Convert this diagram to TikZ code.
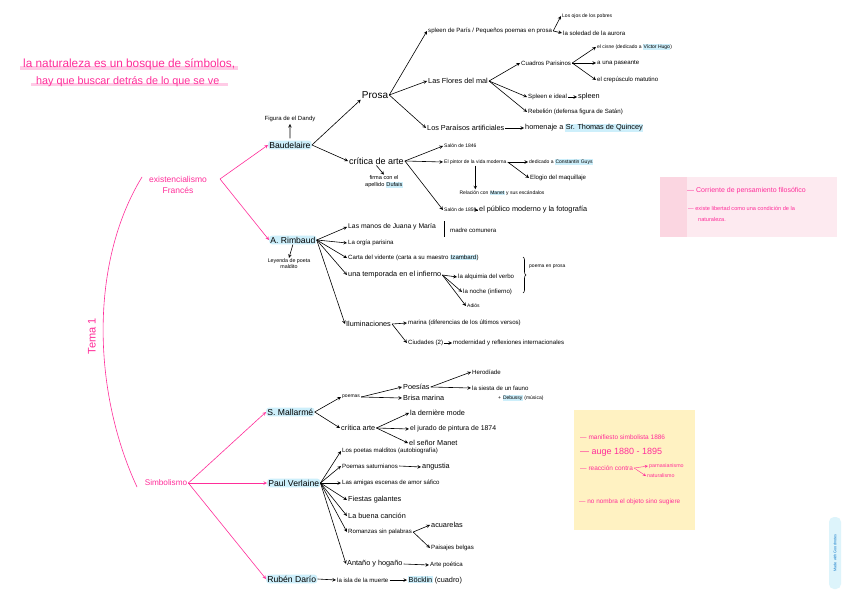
\documentclass[tikz,border=0pt]{standalone}
\usepackage{fontspec}
\setmainfont{Liberation Sans}
\usepackage{tikz}
\usetikzlibrary{decorations.pathreplacing}
\definecolor{rosa}{HTML}{FF2E9A}
\definecolor{celeste}{HTML}{CDEFFB}
\definecolor{rosapalo}{HTML}{FDEAF0}
\definecolor{rosafuerte}{HTML}{FBD6E1}
\definecolor{amarillo}{HTML}{FFF2C2}
\definecolor{marcaazul}{HTML}{DDF4FB}
\tikzstyle{edge} = [draw,->,>=stealth,line width=0.6pt]
\tikzstyle{pedge} = [edge,color=rosa]
\tikzstyle{autor} = [fill=celeste,rounded corners=3pt,inner sep=1.2pt,anchor=west,font=\fontsize{8.6}{9}\selectfont]
\tikzstyle{med} = [inner sep=1pt,anchor=west,font=\fontsize{7.3}{8}\selectfont]
\tikzstyle{peq} = [inner sep=1pt,anchor=west,font=\fontsize{6.1}{7}\selectfont]
\tikzstyle{mini} = [inner sep=1pt,anchor=west,font=\fontsize{5}{6}\selectfont]
\newcommand{\resalta}[1]{{\setlength{\fboxsep}{0.5pt}\colorbox{celeste}{#1}}}

\begin{document}
\begin{tikzpicture}[x=1pt,y=-1pt]
    \useasboundingbox[fill=white] (0,0) rectangle (848,599);

    % lema
    \draw[rosa!25, line width=4pt] (20,68) -- (238,68);
    \draw[rosa!25, line width=3pt] (31,85) -- (228,85);
    \node[inner sep=1,anchor=west,text=rosa,font=\fontsize{11.8}{12}\selectfont] (lema) at (22,64) {la naturaleza es un bosque de símbolos,};
    \node[inner sep=1,anchor=west,text=rosa,font=\fontsize{10.8}{11}\selectfont] (lema2) at (35,82) {hay que buscar detrás de lo que se ve};

    % tema
    \coordinate (arcTop) at (142,177);
    \coordinate (arcBot) at (137,487);
    \draw[rosa, line width=0.6pt] (arcTop) .. controls (90,262) and (92,390) .. (arcBot);
    \node[rotate=90,text=rosa,font=\fontsize{11}{12}\selectfont] (tema) at (92,336) {Tema 1};
    \node[inner sep=1,align=center,text=rosa,font=\fontsize{8.5}{11}\selectfont] (exist) at (178,185) {existencialismo\\Francés};
    \node[inner sep=1,text=rosa,font=\fontsize{8.2}{9}\selectfont] (simb) at (166,483) {Simbolismo};
    \coordinate (exR) at (220,179);

    % autores
    \node[autor] (baud) at (268,145) {Baudelaire};
    \node[autor] (rimb) at (269,240) {A. Rimbaud};
    \node[autor] (malla) at (266,412) {S. Mallarmé};
    \node[autor] (verl) at (267,483) {Paul Verlaine};
    \node[autor] (dario) at (266,579) {Rubén Darío};

    \draw[pedge] (exR) -- (baud.west);
    \draw[pedge] (exR) -- (rimb.west);
    \draw[pedge] (simb.east) -- (malla.west);
    \draw[pedge] (simb.east) -- (verl.west);
    \draw[pedge] (simb.east) -- (dario.west);

    % Baudelaire
    \node[inner sep=1,font=\fontsize{6}{7}\selectfont] (dandy) at (290,119) {Figura de el Dandy};
    \node[inner sep=1,font=\fontsize{10}{11}\selectfont] (prosa) at (375,95) {Prosa};
    \node[inner sep=1,anchor=west,font=\fontsize{9}{10}\selectfont] (critica) at (348,161) {crítica de arte};
    \node[inner sep=1,align=center,font=\fontsize{5.6}{7}\selectfont] (dufais) at (384,182) {firma con el\\apellido \resalta{Dufais}};
    \draw[edge, shorten <=2pt, shorten >=1pt] (baud.north) -- (dandy.south);
    \draw[edge] (baud.east) -- (prosa.south west);
    \draw[edge] (baud.east) -- (critica.west);
    \draw[edge] (critica.south) -- (dufais.north);

    \node[peq] (spleen) at (427,31) {spleen de París / Pequeños poemas en prosa};
    \node[med] (flores) at (427,81) {Las Flores del mal};
    \node[med] (paraisos) at (426,128) {Los Paraísos artificiales};
    \draw[edge] (prosa.east) -- (spleen.west);
    \draw[edge] (prosa.east) -- (flores.west);
    \draw[edge] (prosa.east) -- (paraisos.west);

    \node[mini] (ojos) at (561,16) {Los ojos de los pobres};
    \node[peq] (soledad) at (562,33) {la soledad de la aurora};
    \draw[edge] (spleen.east) -- (ojos.west);
    \draw[edge] (spleen.east) -- (soledad.west);

    \node[peq] (cuadros) at (520,63) {Cuadros Parisinos};
    \node[peq] (ideal) at (527,97) {Spleen e ideal};
    \node[med] (splw) at (577,97) {spleen};
    \node[peq] (rebel) at (527,112) {Rebelión (defensa figura de Satán)};
    \draw[edge] (flores.east) -- (cuadros.west);
    \draw[edge] (flores.east) -- (ideal.west);
    \draw[edge] (flores.east) -- (rebel.west);
    \draw[edge] (ideal.east) -- (splw.west);

    \node[mini] (cisne) at (596,47) {el cisne (dedicado a \resalta{Víctor Hugo})};
    \node[peq] (paseante) at (596,63) {a una paseante};
    \node[peq] (crepus) at (596,80) {el crepúsculo matutino};
    \draw[edge] (cuadros.east) -- (cisne.west);
    \draw[edge] (cuadros.east) -- (paseante.west);
    \draw[edge] (cuadros.east) -- (crepus.west);

    \node[med] (homenaje) at (524,128) {homenaje a \resalta{Sr. Thomas de Quincey}};
    \draw[edge] (paraisos.east) -- (homenaje.west);

    \node[mini] (salon46) at (443,146) {Salón de 1846};
    \node[mini] (pintor) at (443,162) {El pintor de la vida moderna};
    \node[mini] (salon59) at (443,210) {Salón de 1859};
    \draw[edge] (critica.east) -- (salon46.west);
    \draw[edge] (critica.east) -- (pintor.west);
    \draw[edge] (critica.east) -- (salon59.west);

    \node[mini] (guys) at (528,162) {dedicado a \resalta{Constantin Guys}};
    \node[peq] (elogio) at (529,178) {Elogio del maquillaje};
    \node[inner sep=1,font=\fontsize{5}{6}\selectfont] (manet) at (502,193) {Relación con \resalta{Manet} y sus escándalos};
    \node[med] (publico) at (478,210) {el público moderno y la fotografía};
    \draw[edge] (pintor.east) -- (guys.west);
    \draw[edge] (pintor.east) -- (elogio.west);
    \draw[edge] (pintor.south) -- (pintor.south |- manet.north);
    \draw[edge] (salon59.east) -- (publico.west);

    % Rimbaud
    \node[inner sep=1,align=center,font=\fontsize{5.3}{6}\selectfont] (leyenda) at (289,264) {Leyenda de poeta\\maldito};
    \draw[edge] (rimb.south) -- (leyenda.north);
    \node[inner sep=1pt,anchor=west,font=\fontsize{6.8}{8}\selectfont] (manos) at (347,227) {Las manos de Juana y María};
    \node[peq] (orgia) at (347,243) {La orgía parisina};
    \node[peq] (carta) at (347,258) {Carta del vidente (carta a su maestro \resalta{Izambard})};
    \node[med] (tempo) at (347,275) {una temporada en el infierno};
    \node[med] (ilum) at (345,324) {Iluminaciones};
    \draw[edge] (rimb.east) -- (manos.west);
    \draw[edge] (rimb.east) -- (orgia.west);
    \draw[edge] (rimb.east) -- (carta.west);
    \draw[edge] (rimb.east) -- (tempo.west);
    \draw[edge] (rimb.east) -- (ilum.west);

    \draw[line width=0.6pt] (444,221) -- (444,237);
    \node[peq] (madre) at (449,230) {madre comunera};

    \node[peq] (alquimia) at (457,277) {la alquimia del verbo};
    \node[peq] (noche) at (462,292) {la noche (infierno)};
    \node[mini] (adios) at (466,306) {Adiós};
    \draw[edge] (tempo.east) -- (alquimia.west);
    \draw[edge] (tempo.east) -- (noche.west);
    \draw[edge] (tempo.east) -- (adios.west);
    \draw[line width=0.6pt, decorate, decoration={brace,amplitude=3pt}] (523,257) -- (523,293);
    \node[mini] (poema) at (528,267) {poema en prosa};

    \node[peq] (marina) at (407,323) {marina (diferencias de los últimos versos)};
    \node[peq] (ciudades) at (407,343) {Ciudades (2)};
    \node[peq] (moderna) at (452,343) {modernidad y reflexiones internacionales};
    \draw[edge] (ilum.east) -- (marina.west);
    \draw[edge] (ilum.east) -- (ciudades.west);
    \draw[edge] (ciudades.east) -- (moderna.west);

    % Mallarme
    \node[mini] (poemas) at (341,397) {poemas};
    \node[med] (critarte) at (340,428) {crítica arte};
    \draw[edge] (malla.east) -- (poemas.west);
    \draw[edge] (malla.east) -- (critarte.west);
    \node[med] (poesias) at (402,387) {Poesías};
    \node[med] (brisa) at (402,398) {Brisa marina};
    \draw[edge] (poemas.east) -- (poesias.west);
    \draw[edge] (poemas.east) -- (brisa.west);
    \node[peq] (herod) at (471,372) {Herodíade};
    \node[peq] (siesta) at (471,388) {la siesta de un fauno};
    \node[mini] (debussy) at (497,398) {+ \resalta{Debussy} (música)};
    \draw[edge] (poesias.east) -- (herod.west);
    \draw[edge] (poesias.east) -- (siesta.west);
    \node[med] (derniere) at (409,413) {la dernière mode};
    \node[inner sep=1pt,anchor=west,font=\fontsize{6.9}{8}\selectfont] (jurado) at (409,429) {el jurado de pintura de 1874};
    \node[med] (senor) at (408,443) {el señor Manet};
    \draw[edge] (critarte.east) -- (derniere.west);
    \draw[edge] (critarte.east) -- (jurado.west);
    \draw[edge] (critarte.east) -- (senor.west);

    % Verlaine
    \node[peq] (malditos) at (341,451) {Los poetas malditos (autobiografía)};
    \node[peq] (saturn) at (341,466) {Poemas saturnianos};
    \node[peq] (amigas) at (341,483) {Las amigas escenas de amor sáfico};
    \node[med] (fiestas) at (347,500) {Fiestas galantes};
    \node[med] (buena) at (347,516) {La buena canción};
    \node[peq] (romanzas) at (347,532) {Romanzas sin palabras};
    \node[med] (antano) at (346,564) {Antaño y hogaño};
    \foreach \obra in {malditos,saturn,amigas,fiestas,buena,romanzas,antano}
        \draw[edge] (verl.east) -- (\obra.west);
    \node[med] (angustia) at (421,467) {angustia};
    \node[med] (acuarelas) at (430,525) {acuarelas};
    \node[peq] (paisajes) at (430,548) {Paisajes belgas};
    \node[peq] (artepo) at (429,565) {Arte poética};
    \draw[edge] (saturn.east) -- (angustia.west);
    \draw[edge] (romanzas.east) -- (acuarelas.west);
    \draw[edge] (romanzas.east) -- (paisajes.west);
    \draw[edge] (antano.east) -- (artepo.west);

    % Dario
    \node[peq] (isla) at (336,580) {la isla de la muerte};
    \node[med] (bocklin) at (407,580) {\resalta{Böcklin} (cuadro)};
    \draw[edge] (dario.east) -- (isla.west);
    \draw[edge] (isla.east) -- (bocklin.west);

    % notas
    \fill[rosapalo] (660,177) rectangle (837,237);
    \fill[rosafuerte] (660,177) rectangle (687,237);
    \node[inner sep=1,anchor=west,text=rosa,font=\fontsize{7}{8}\selectfont] (corriente) at (686,191) {— Corriente de pensamiento filosófico};
    \node[inner sep=1,anchor=west,text=rosa,font=\fontsize{5.6}{6}\selectfont] (libertad) at (687,208) {— existe libertad como una condición de la};
    \node[inner sep=1,anchor=west,text=rosa,font=\fontsize{5.6}{6}\selectfont] (natura) at (697,219) {naturaleza.};

    \fill[amarillo] (574,410) rectangle (695,530);
    \node[inner sep=1,anchor=west,text=rosa,font=\fontsize{6.5}{7}\selectfont] (manif) at (579,437) {— manifiesto simbolista 1886};
    \node[inner sep=1,anchor=west,text=rosa,font=\fontsize{9}{10}\selectfont] (auge) at (579,452) {— auge 1880 - 1895};
    \node[inner sep=1,anchor=west,text=rosa,font=\fontsize{6.5}{7}\selectfont] (reaccion) at (579,468) {— reacción contra};
    \node[inner sep=1,anchor=west,text=rosa,font=\fontsize{5.3}{6}\selectfont] (parnas) at (648,466) {parnasianismo};
    \node[inner sep=1,anchor=west,text=rosa,font=\fontsize{5.3}{6}\selectfont] (natur) at (646,476) {naturalismo};
    \draw[pedge, line width=0.4pt] (reaccion.east) -- (parnas.west);
    \draw[pedge, line width=0.4pt] (reaccion.east) -- (natur.west);
    \node[inner sep=1,anchor=west,text=rosa,font=\fontsize{6.4}{7}\selectfont] (sugiere) at (578,502) {— no nombra el objeto sino sugiere};

    \node[rotate=90,fill=marcaazul,rounded corners=5pt,minimum width=72pt,minimum height=12pt,inner sep=1,text=cyan!60!blue,font=\fontsize{3.8}{4}\selectfont] (marca) at (835,553) {Made with Goodnotes};
\end{tikzpicture}
\end{document}
